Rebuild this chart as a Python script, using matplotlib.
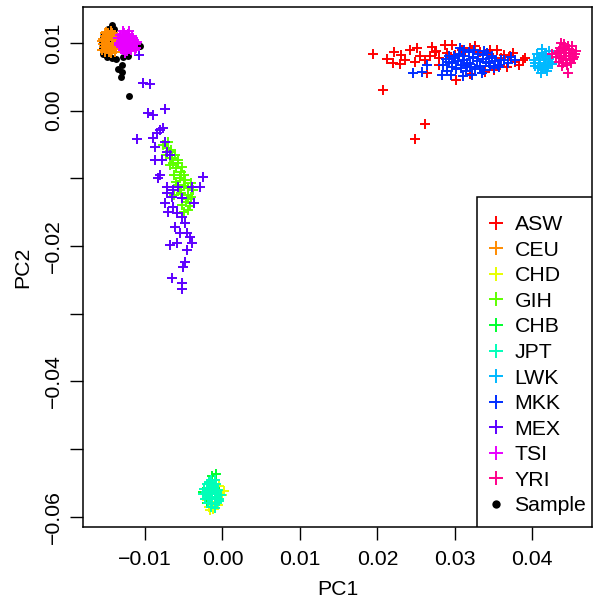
import matplotlib
matplotlib.use('Agg')
import matplotlib.pyplot as plt
from matplotlib.patches import Rectangle

plt.rcParams['font.family'] = ['Liberation Sans', 'DejaVu Sans']

# population names and their colours (R rainbow(11))
pops = ['ASW', 'CEU', 'CHD', 'GIH', 'CHB', 'JPT', 'LWK', 'MKK', 'MEX', 'TSI', 'YRI']
colors = ['#FF0000', '#FF8B00', '#E8FF00', '#5DFF00', '#00FF2E', '#00FFB9',
          '#00B9FF', '#002EFF', '#5D00FF', '#E800FF', '#FF008B']

# PC1 / PC2 values, one pair of lists per population
asw_x = [0.0194, 0.0207, 0.0261, 0.0249, 0.0213, 0.0220, 0.0231, 0.0229, 0.0251, 0.0248,
         0.0270, 0.0261, 0.0296, 0.0302, 0.0264, 0.0388, 0.0375, 0.0354, 0.0367, 0.0274,
         0.0280, 0.0287, 0.0319, 0.0332, 0.0345, 0.0364, 0.0377, 0.0309, 0.0242, 0.0235,
         0.0255, 0.0339, 0.0319, 0.0358, 0.0300, 0.0222, 0.0391, 0.0280, 0.0326, 0.0350,
         0.0268, 0.0276, 0.0290, 0.0371, 0.0383, 0.0360, 0.0344, 0.0313]
asw_y = [0.0083, 0.0031, -0.0020, -0.0042, 0.0076, 0.0071, 0.0082, 0.0069, 0.0093, 0.0072,
         0.0094, 0.0075, 0.0097, 0.0045, 0.0056, 0.0075, 0.0085, 0.0090, 0.0065, 0.0087,
         0.0078, 0.0097, 0.0093, 0.0087, 0.0090, 0.0082, 0.0072, 0.0090, 0.0090, 0.0075,
         0.0081, 0.0057, 0.0054, 0.0068, 0.0082, 0.0087, 0.0077, 0.0068, 0.0095, 0.0060,
         0.0080, 0.0088, 0.0085, 0.0080, 0.0068, 0.0078, 0.0084, 0.0086]

ceu_x = [-0.0152, -0.0148, -0.0144, -0.0140, -0.0136, -0.0150, -0.0146, -0.0142, -0.0138,
         -0.0154, -0.0149, -0.0145, -0.0141, -0.0137, -0.0151, -0.0147, -0.0143, -0.0139,
         -0.0156, -0.0153, -0.0135, -0.0144, -0.0148, -0.0140, -0.0150, -0.0146, -0.0142,
         -0.0152, -0.0138, -0.0155, -0.0154, -0.0150, -0.0146, -0.0142, -0.0138, -0.0136,
         -0.0152, -0.0144]
ceu_y = [0.0110, 0.0114, 0.0117, 0.0112, 0.0108, 0.0104, 0.0100, 0.0105, 0.0101,
         0.0098, 0.0095, 0.0092, 0.0096, 0.0094, 0.0090, 0.0087, 0.0089, 0.0087,
         0.0103, 0.0094, 0.0098, 0.0110, 0.0107, 0.0091, 0.0099, 0.0112, 0.0099,
         0.0115, 0.0104, 0.0090, 0.0106, 0.0116, 0.0095, 0.0115, 0.0091, 0.0103,
         0.0087, 0.0085]

chd_x = [-0.0018, -0.0012, -0.0006, 0.0000, 0.0002, -0.0020, -0.0010, -0.0015, -0.0005,
         -0.0013, -0.0008, -0.0016]
chd_y = [-0.0585, -0.0588, -0.0582, -0.0568, -0.0562, -0.0575, -0.0570, -0.0560, -0.0555,
         -0.0578, -0.0565, -0.0590]

gih_x = [-0.0077, -0.0071, -0.0073, -0.0065, -0.0068, -0.0060, -0.0063, -0.0055, -0.0058,
         -0.0050, -0.0053, -0.0045, -0.0047, -0.0042, -0.0050, -0.0062, -0.0038, -0.0068,
         -0.0058, -0.0054, -0.0041, -0.0070, -0.0064, -0.0048, -0.0044, -0.0066, -0.0061,
         -0.0057, -0.0052, -0.0049, -0.0045, -0.0056, -0.0040, -0.0052, -0.0044, -0.0060]
gih_y = [-0.0051, -0.0055, -0.0065, -0.0070, -0.0080, -0.0085, -0.0095, -0.0099, -0.0110,
         -0.0111, -0.0122, -0.0125, -0.0135, -0.0141, -0.0150, -0.0125, -0.0117, -0.0061,
         -0.0073, -0.0091, -0.0107, -0.0047, -0.0078, -0.0102, -0.0130, -0.0058, -0.0066,
         -0.0077, -0.0084, -0.0095, -0.0114, -0.0118, -0.0128, -0.0140, -0.0147, -0.0105]

chb_x = [-0.0013, -0.0008, -0.0025, -0.0018, -0.0010, -0.0015, -0.0020]
chb_y = [-0.0539, -0.0536, -0.0563, -0.0550, -0.0558, -0.0570, -0.0580]

jpt_x = [-0.0015, -0.0010, -0.0020, -0.0014, -0.0008, -0.0024, -0.0018, -0.0012, -0.0006,
         -0.0025, -0.0019, -0.0013, -0.0007, -0.0002, -0.0022, -0.0016, -0.0010, -0.0004,
         -0.0019, -0.0013, -0.0007, -0.0015, -0.0010, -0.0017, -0.0011, -0.0021, -0.0009,
         -0.0016, -0.0005]
jpt_y = [-0.0545, -0.0546, -0.0552, -0.0553, -0.0551, -0.0559, -0.0560, -0.0558, -0.0560,
         -0.0566, -0.0567, -0.0565, -0.0566, -0.0567, -0.0573, -0.0574, -0.0572, -0.0573,
         -0.0580, -0.0581, -0.0579, -0.0586, -0.0587, -0.0549, -0.0556, -0.0563, -0.0563,
         -0.0570, -0.0576]

lwk_x = [0.0404, 0.0408, 0.0412, 0.0416, 0.0420, 0.0413, 0.0407, 0.0418, 0.0423, 0.0410,
         0.0415, 0.0402, 0.0425, 0.0419, 0.0411, 0.0421, 0.0406, 0.0414, 0.0409, 0.0417,
         0.0422, 0.0403, 0.0426, 0.0412]
lwk_y = [0.0070, 0.0078, 0.0085, 0.0075, 0.0066, 0.0062, 0.0063, 0.0082, 0.0072, 0.0071,
         0.0068, 0.0075, 0.0079, 0.0059, 0.0056, 0.0088, 0.0083, 0.0080, 0.0066, 0.0063,
         0.0076, 0.0066, 0.0069, 0.0091]

mkk_x = [0.0290, 0.0302, 0.0314, 0.0326, 0.0338, 0.0350, 0.0285, 0.0296, 0.0308, 0.0320,
         0.0332, 0.0344, 0.0356, 0.0368, 0.0288, 0.0300, 0.0312, 0.0324, 0.0336, 0.0348,
         0.0360, 0.0372, 0.0305, 0.0318, 0.0330, 0.0342, 0.0246, 0.0257, 0.0264, 0.0283,
         0.0295, 0.0310, 0.0322, 0.0335, 0.0378, 0.0306, 0.0293, 0.0316, 0.0296, 0.0308,
         0.0320, 0.0333, 0.0345, 0.0357, 0.0292, 0.0304, 0.0316, 0.0328, 0.0340, 0.0352,
         0.0364, 0.0299, 0.0311, 0.0324, 0.0336, 0.0348, 0.0312, 0.0325, 0.0338]
mkk_y = [0.0059, 0.0061, 0.0058, 0.0062, 0.0060, 0.0063, 0.0068, 0.0070, 0.0067, 0.0069,
         0.0066, 0.0070, 0.0068, 0.0071, 0.0076, 0.0077, 0.0075, 0.0078, 0.0076, 0.0077,
         0.0075, 0.0079, 0.0084, 0.0086, 0.0083, 0.0085, 0.0056, 0.0057, 0.0067, 0.0053,
         0.0052, 0.0051, 0.0053, 0.0055, 0.0074, 0.0092, 0.0081, 0.0066, 0.0064, 0.0063,
         0.0065, 0.0064, 0.0066, 0.0064, 0.0072, 0.0073, 0.0071, 0.0073, 0.0072, 0.0073,
         0.0074, 0.0080, 0.0081, 0.0079, 0.0082, 0.0081, 0.0089, 0.0090, 0.0088]

mex_x = [-0.01025, -0.00938, -0.00964, -0.00899, -0.00745, -0.01106, -0.00848, -0.00809,
         -0.00770, -0.00899, -0.00874, -0.00745, -0.00719, -0.00874, -0.00783, -0.00680,
         -0.00809, -0.00835, -0.00719, -0.00641, -0.00577, -0.00719, -0.00654, -0.00525,
         -0.00396, -0.00293, -0.00254, -0.00370, -0.00745, -0.00641, -0.00706, -0.00590,
         -0.00525, -0.00615, -0.00486, -0.00551, -0.00461, -0.00422, -0.00396, -0.00680,
         -0.00590, -0.00461, -0.00486, -0.00512, -0.00654, -0.00525, -0.00525, -0.01080]
mex_y = [0.00405, 0.00394, -0.00034, -0.00063, 0.00025, -0.00418, -0.00329, -0.00285,
         -0.00256, -0.00403, -0.00536, -0.00462, -0.00610, -0.00728, -0.00728, -0.00654,
         -0.00950, -0.00994, -0.01127, -0.01171, -0.01127, -0.01216, -0.01275, -0.01290,
         -0.01127, -0.01127, -0.00979, -0.01364, -0.01364, -0.01422, -0.01496, -0.01511,
         -0.01570, -0.01718, -0.01659, -0.01807, -0.01807, -0.01866, -0.01954, -0.01984,
         -0.01954, -0.02058, -0.02235, -0.02309, -0.02471, -0.02545, -0.02634, 0.00820]

tsi_x = [-0.0132, -0.0127, -0.0122, -0.0117, -0.0130, -0.0125, -0.0120, -0.0114, -0.0134,
         -0.0128, -0.0123, -0.0118, -0.0112, -0.0131, -0.0126, -0.0121, -0.0116, -0.0111,
         -0.0128, -0.0123, -0.0118, -0.0133, -0.0124, -0.0119, -0.0129, -0.0115, -0.0121,
         -0.0126, -0.0135, -0.0131, -0.0120, -0.0115, -0.0110, -0.0113, -0.0125, -0.0129,
         -0.0124]
tsi_y = [0.0112, 0.0115, 0.0113, 0.0110, 0.0106, 0.0108, 0.0105, 0.0104, 0.0100,
         0.0101, 0.0099, 0.0100, 0.0098, 0.0094, 0.0095, 0.0093, 0.0094, 0.0092,
         0.0089, 0.0088, 0.0089, 0.0097, 0.0103, 0.0096, 0.0118, 0.0107, 0.0117, 0.0085,
         0.0107, 0.0103, 0.0111, 0.0099, 0.0101, 0.0089, 0.0091, 0.0097, 0.0112]

yri_x = [0.0432, 0.0436, 0.0441, 0.0446, 0.0451, 0.0455, 0.0437, 0.0442, 0.0447, 0.0452,
         0.0440, 0.0445, 0.0450, 0.0434, 0.0444, 0.0448, 0.0456, 0.0438, 0.0425, 0.0446,
         0.0430, 0.0435, 0.0439, 0.0443, 0.0449, 0.0454, 0.0441, 0.0447, 0.0451, 0.0437]
yri_y = [0.0085, 0.0093, 0.0098, 0.0095, 0.0090, 0.0083, 0.0078, 0.0085, 0.0080, 0.0076,
         0.0071, 0.0068, 0.0070, 0.0072, 0.0090, 0.0074, 0.0088, 0.0066, 0.0084, 0.0056,
         0.0079, 0.0088, 0.0093, 0.0076, 0.0085, 0.0079, 0.0080, 0.0091, 0.0096, 0.0100]

# the study sample (black dots)
sample_x = [-0.0143, -0.0148, -0.0154, -0.0156, -0.0156, -0.0154, -0.0149, -0.0143, -0.0138,
            -0.0130, -0.0135, -0.0130, -0.0131, -0.0121, -0.0107, -0.0140, -0.0146, -0.0140,
            -0.0150, -0.0128, -0.0122]
sample_y = [0.0127, 0.0121, 0.0110, 0.0100, 0.0092, 0.0084, 0.0079, 0.0077, 0.0076,
            0.0067, 0.0061, 0.0057, 0.0050, 0.0022, 0.0096, 0.0120, 0.0100, 0.0095,
            0.0088, 0.0079, 0.0081]

pop_x = [asw_x, ceu_x, chd_x, gih_x, chb_x, jpt_x, lwk_x, mkk_x, mex_x, tsi_x, yri_x]
pop_y = [asw_y, ceu_y, chd_y, gih_y, chb_y, jpt_y, lwk_y, mkk_y, mex_y, tsi_y, yri_y]

xticks = [-0.01, 0.00, 0.01, 0.02, 0.03, 0.04]
xtick_labels = ['\u22120.01', '0.00', '0.01', '0.02', '0.03', '0.04']
yticks = [-0.06, -0.05, -0.04, -0.03, -0.02, -0.01, 0.00, 0.01]
ytick_labels = ['\u22120.06', '', '\u22120.04', '', '\u22120.02', '', '0.00', '0.01']

fs = 15.3

fig = plt.figure(figsize=(5.97, 6.03), dpi=100)
ax = fig.add_axes([83 / 597, 76 / 603, 509 / 597, 520 / 603])

# sample goes underneath the reference populations
ax.plot(sample_x, sample_y, linestyle='none', marker='o', ms=5, color='black',
        mew=0, zorder=1)
for name, col, xs, ys in zip(pops, colors, pop_x, pop_y):
    ax.plot(xs, ys, linestyle='none', marker='+', ms=7.3, mew=1.4, color=col, zorder=2)

ax.set_xlim(-0.0180, 0.0477)
ax.set_ylim(-0.0615, 0.0153)
ax.set_xticks(xticks)
ax.set_xticklabels(xtick_labels)
ax.set_yticks(yticks)
ax.set_yticklabels(ytick_labels, rotation=90, va='center')
ax.tick_params(direction='out', length=9.5, width=1, labelsize=fs, colors='black')
ax.tick_params(axis='x', pad=7)
ax.tick_params(axis='y', pad=5)
for s in ax.spines.values():
    s.set_linewidth(1.1)
ax.set_xlabel('PC1', fontsize=fs, labelpad=8)
ax.set_ylabel('PC2', fontsize=fs, labelpad=8)

# legend frame in the bottom right corner, entries placed inside without their own frame
ax.add_patch(Rectangle((0.774, 0.0), 0.226, 0.635, transform=ax.transAxes,
                       facecolor='white', edgecolor='black', linewidth=1.1, zorder=5))
handles = [plt.Line2D([], [], linestyle='none', marker='+', ms=10, mew=1.4, color=c)
           for c in colors]
handles.append(plt.Line2D([], [], linestyle='none', marker='o', ms=6, color='black', mew=0))
labels = pops + ['Sample']
leg = ax.legend(handles, labels, loc='upper left', bbox_to_anchor=(0.7986, 0.600),
                frameon=False, borderpad=0, borderaxespad=0, fontsize=fs, numpoints=1,
                handlelength=0.6, handletextpad=0.58, labelspacing=0.31)
leg.set_zorder(6)

fig.savefig('out.png', dpi=100)
